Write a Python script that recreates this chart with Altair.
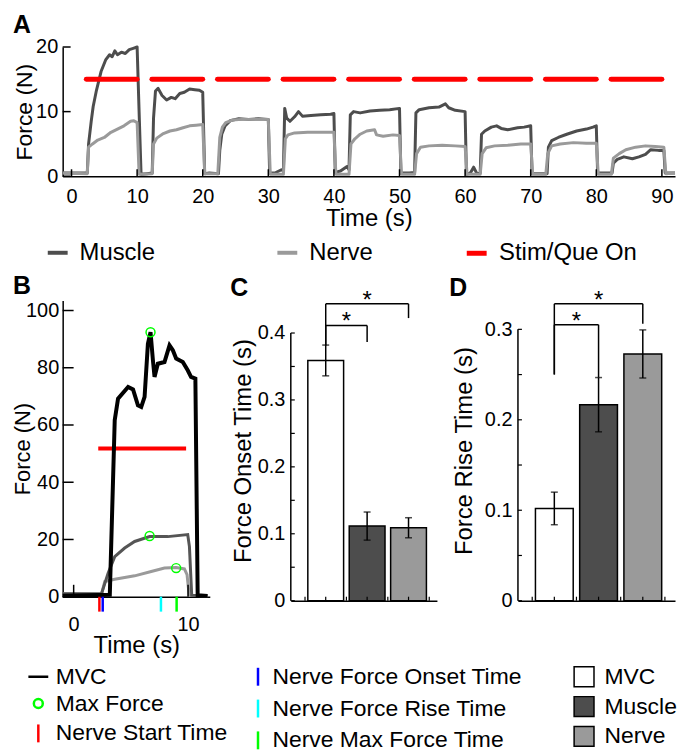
import altair as alt
import pandas as pd

FONT = "Liberation Sans"
DARK = "#4d4d4d"
LIGHT = "#9a9a9a"

# ---------------- Panel A: force traces over 9 stimulation cycles ----------------
MUSCLE_A = [
    (-1.35, 0.5), (2.4, 0.5), (2.6, 5.0), (3.0, 8.5), (3.3, 10.8), (3.8, 13.3), (4.5, 16.2), (5.2, 18.0),
    (5.8, 18.8), (6.2, 18.5), (6.6, 19.4), (7.0, 18.8), (7.6, 19.2), (8.2, 19.0), (8.8, 19.6), (9.4, 19.8),
    (10.0, 20.0), (10.3, 10.0), (10.6, 0.3), (11.5, 0.4), (12.3, 0.5),
    (12.5, 9.0), (12.8, 13.2), (13.2, 13.6), (13.8, 12.5), (14.5, 11.8), (15.2, 12.2), (15.8, 12.0),
    (16.5, 12.8), (17.2, 13.0), (18.0, 13.5), (18.8, 13.4), (19.5, 13.3), (20.0, 13.0), (20.3, 0.4),
    (21.0, 0.5), (22.4, 0.4),
    (22.6, 4.0), (22.9, 6.5), (23.4, 7.8), (24.2, 8.6), (25.5, 8.9), (27.0, 8.8), (28.5, 8.9), (30.0, 8.8),
    (30.2, 0.5), (31.0, 0.5), (32.0, 1.0), (32.3, 0.8),
    (32.5, 10.5), (32.8, 9.0), (33.3, 8.5), (34.0, 9.2), (34.6, 10.0), (35.2, 9.3), (36.5, 9.4), (38.0, 9.5),
    (39.5, 9.6), (40.0, 9.7), (40.2, 0.6), (41.0, 0.8), (42.0, 1.5), (42.3, 1.0),
    (42.5, 9.5), (43.0, 10.0), (44.0, 9.8), (45.5, 10.1), (47.0, 10.2), (48.5, 10.3), (50.0, 10.5),
    (50.2, 0.5), (51.5, 0.5), (52.3, 0.6),
    (52.5, 9.8), (53.0, 10.3), (54.5, 10.6), (56.0, 10.7), (57.0, 11.2), (57.5, 10.6), (58.5, 10.2),
    (60.0, 10.0), (60.2, 0.3), (60.8, 0.5), (61.3, 1.4), (61.8, 0.4), (62.3, 0.5),
    (62.5, 6.5), (63.0, 7.0), (64.0, 7.6), (64.8, 7.8), (65.5, 7.4), (66.5, 7.2), (68.0, 7.5), (69.0, 7.6),
    (70.0, 7.8), (70.2, 0.4), (72.5, 0.4),
    (72.7, 4.5), (73.2, 5.5), (74.2, 6.0), (75.5, 6.5), (77.0, 7.0), (78.5, 7.3), (79.5, 7.6), (80.0, 7.8),
    (80.2, 0.5), (82.4, 0.5),
    (82.6, 2.0), (83.2, 2.6), (84.2, 3.0), (85.5, 2.7), (86.5, 3.0), (87.5, 3.4), (88.3, 4.1), (89.5, 4.0),
    (90.3, 4.0), (90.5, 0.5), (92.0, 0.5),
]
NERVE_A = [
    (-1.35, 0.5), (2.4, 0.4), (2.6, 4.5), (3.2, 5.0), (4.0, 5.6), (5.0, 6.0), (6.0, 6.8), (7.0, 7.3),
    (8.0, 7.8), (9.0, 8.5), (9.5, 8.6), (10.0, 8.3), (10.3, 0.3), (12.3, 0.4),
    (12.5, 5.0), (13.0, 5.9), (14.0, 6.6), (15.0, 7.0), (16.0, 7.2), (17.0, 7.5), (18.0, 7.8), (19.0, 7.9),
    (20.0, 8.0), (20.3, 0.4), (22.3, 0.4),
    (22.6, 6.0), (23.0, 7.6), (23.5, 8.3), (24.5, 8.7), (26.0, 8.8), (28.0, 8.8), (30.0, 8.8), (30.3, 0.3),
    (32.3, 0.3),
    (32.6, 5.8), (33.0, 6.4), (34.0, 6.7), (36.0, 6.8), (38.0, 6.8), (40.0, 6.8), (40.3, 0.3), (42.3, 0.3),
    (42.6, 5.0), (43.2, 5.8), (44.0, 6.5), (45.0, 7.0), (46.2, 7.2), (46.5, 6.4), (47.5, 6.2), (49.0, 6.4),
    (50.0, 6.3), (50.3, 0.3), (52.3, 0.3),
    (52.6, 3.5), (53.2, 4.5), (54.5, 4.7), (56.5, 4.8), (58.5, 4.7), (60.0, 4.6), (60.3, 0.3), (62.3, 0.3),
    (62.6, 3.5), (63.2, 4.4), (64.5, 4.7), (66.5, 4.8), (68.5, 5.0), (70.0, 5.0), (70.3, 0.3), (72.3, 0.3),
    (72.6, 3.5), (73.2, 4.7), (74.5, 5.0), (76.5, 5.2), (78.5, 5.1), (80.0, 5.1), (80.3, 0.3), (82.3, 0.3),
    (82.6, 2.8), (83.5, 3.5), (84.5, 4.1), (86.0, 4.5), (87.5, 4.7), (89.0, 4.6), (90.3, 4.5), (90.6, 0.4),
    (92.0, 0.5),
]
STIM_ON = [2.25, 12.25, 22.25, 32.25, 42.25, 52.25, 62.25, 72.25, 82.25]
STIM_OFF = [10, 20, 30, 40, 50, 60, 70, 80, 90]
STIM_LEVEL = 15.0
A_TRACES = ["Muscle", "Nerve"]
A_TRACE_COLORS = [DARK, LIGHT]
A_STIM = ["Stim/Que On"]
A_STIM_COLOR = ["#ff0000"]
A_XTICKS = [0, 10, 20, 30, 40, 50, 60, 70, 80, 90]
A_YTICKS = [0, 10, 20]

# ---------------- Panel B: single trial ----------------
MVC_B = [
    (-0.96, 0.3), (3.16, 0.7), (3.59, 61.7), (3.88, 69.2), (4.76, 73.3), (5.19, 72.4), (5.62, 66.9),
    (5.91, 66.3), (6.2, 69.8), (6.49, 88.4), (6.72, 92.4), (6.93, 82.6), (7.07, 76.8), (7.36, 81.4),
    (7.94, 82.0), (8.38, 87.8), (8.67, 86.1), (8.96, 83.2), (9.54, 82.0), (9.97, 79.1), (10.26, 76.8),
    (10.64, 76.2), (10.84, 0.5), (11.7, 0.3),
]
MUSCLE_B = [
    (-0.96, 1.0), (2.43, 1.0), (3.01, 8.2), (3.59, 14.0), (4.46, 17.0), (5.33, 19.3), (6.64, 21.0),
    (8.23, 21.0), (9.97, 21.7), (10.12, 17.5), (10.32, 0.5), (11.7, 0.3),
]
NERVE_B = [
    (-0.96, 1.0), (2.43, 0.8), (2.72, 5.3), (3.59, 6.1), (5.33, 7.3), (6.78, 8.8), (7.94, 10.0),
    (8.96, 10.2), (9.68, 9.7), (9.91, 7.7), (10.1, 0.5), (11.7, 0.3),
]
MAX_FORCE_B = [(6.72, 92.4), (6.64, 21.2), (8.96, 10.0)]
STIM_B = [(2.15, 9.83, 51.8)]
NERVE_START_T = [2.25]
B_ITEMS = ["MVC", "Max Force", "Nerve Start Time"]
B_ITEM_COLORS = ["black", "#00ff00", "#ff0000"]
B_ITEM_SHAPES = [
    "M-1,0L1,0",
    "M-0.45,0A0.45,0.45 0 1,0 0.45,0A0.45,0.45 0 1,0 -0.45,0Z",
    "M0,-0.9L0,0.9",
]
EVENT_NAMES = ["Nerve Force Onset Time", "Nerve Force Rise Time", "Nerve Max Force Time"]
EVENT_T = [2.54, 7.63, 9.0]
EVENT_COLORS = ["#0000ff", "#00ffff", "#00ff00"]
B_XTICKS = [0, 10]
B_YTICKS = [0, 20, 40, 60, 80, 100]

# ---------------- Panels C and D: bar summaries ----------------
GROUPS = ["MVC", "Muscle", "Nerve"]
GROUP_POS = [1, 2, 3]
GROUP_COLORS = ["white", DARK, LIGHT]
ONSET_MEAN = [0.359, 0.1115, 0.109]
ONSET_ERR = [0.023, 0.021, 0.015]
RISE_MEAN = [0.102, 0.2167, 0.2728]
RISE_ERR = [0.018, 0.030, 0.0266]
# brackets: (x_left, x_right, y_top, left leg bottom, right leg bottom)
C_BRACKETS = [(1, 3, 0.4436, 0.3817, 0.4223), (1, 2, 0.4114, 0.3817, 0.3866)]
D_BRACKETS = [(1, 3, 0.3282, 0.2501, 0.3062), (1, 2, 0.3051, 0.2501, 0.2468)]
C_YTICKS = [0, 0.1, 0.2, 0.3, 0.4]
C_YMINOR = [0.05, 0.15, 0.25, 0.35]
D_YTICKS = [0, 0.1, 0.2, 0.3]
D_YMINOR = [0.05, 0.15, 0.25]
BAR_XTICKS = [0.5, 1, 1.5, 2, 2.5, 3, 3.5]

LEGEND_ROW_PAD = 3
LEGEND_TOP = 367


def trace_df(pairs, name):
    return pd.DataFrame({"t": [p[0] for p in pairs], "F": [p[1] for p in pairs],
                         "series": name, "i": list(range(len(pairs)))})


def panel_label(letter, dx, dy):
    return alt.Chart(pd.DataFrame({"lab": [letter]})).mark_text(
        fontSize=25, fontWeight="bold", align="left", baseline="top", font=FONT
    ).encode(text="lab:N", x=alt.value(dx), y=alt.value(dy))


# ======== Panel A ========
WA, HA = 616, 130
xsA = alt.Scale(domain=[-1.35, 92.0], nice=False, zero=False)
ysA = alt.Scale(domain=[0, 20], nice=False)
axA_x = alt.Axis(values=A_XTICKS, title="Time (s)", labelPadding=10, titlePadding=1, format="d")
axA_y = alt.Axis(values=A_YTICKS, title="Force (N)", labelPadding=5, titlePadding=-1, format="d",
                 titleFontSize=23)
legA1 = alt.Legend(title=None, orient="none", legendX=-17, legendY=195, direction="horizontal",
                   symbolType="stroke", symbolSize=400, symbolStrokeWidth=4, labelFontSize=24,
                   labelOffset=10, columnPadding=114, padding=0)
legA2 = alt.Legend(title=None, orient="none", legendX=404, legendY=195, direction="horizontal",
                   symbolType="stroke", symbolSize=400, symbolStrokeWidth=5, labelFontSize=24,
                   labelOffset=10, padding=0)
colA = alt.Color("series:N", scale=alt.Scale(domain=A_TRACES, range=A_TRACE_COLORS), legend=legA1)
strA = alt.Stroke("series:N", scale=alt.Scale(domain=A_STIM, range=A_STIM_COLOR), legend=legA2)
XA = alt.X("t:Q", scale=xsA, axis=axA_x)
YA = alt.Y("F:Q", scale=ysA, axis=axA_y)

dfA = pd.concat([trace_df(MUSCLE_A, "Muscle"), trace_df(NERVE_A, "Nerve")])
tracesA = alt.Chart(dfA).mark_line(strokeWidth=3, strokeJoin="round").encode(
    x=XA, y=YA, color=colA, detail="series:N", order="i:Q")
stimA = alt.Chart(pd.DataFrame({"t": STIM_ON, "t2": STIM_OFF, "F": STIM_LEVEL,
                                "series": A_STIM[0]})).mark_rule(
    strokeWidth=5, strokeCap="round").encode(x=XA, x2="t2:Q", y=YA, stroke=strA)
ytickA = alt.Chart(pd.DataFrame({"F": A_YTICKS})).mark_rule(color="black", strokeWidth=1.5).encode(
    y=YA, x=alt.value(0), x2=alt.value(8))
xtickA = alt.Chart(pd.DataFrame({"t": A_XTICKS})).mark_rule(color="black", strokeWidth=1.5).encode(
    x=XA, y=alt.value(HA), y2=alt.value(HA - 7))
A = alt.layer(tracesA, stimA, ytickA, xtickA, panel_label("A", -50, -34)).properties(width=WA, height=HA)

# ======== Panel B ========
WB, HB = 148, 298
xsB = alt.Scale(domain=[-0.96, 11.9], nice=False, zero=False)
ysB = alt.Scale(domain=[0, 103.5], nice=False)
axB_x = alt.Axis(values=B_XTICKS, title="Time (s)", labelPadding=18, titlePadding=-1, format="d")
axB_y = alt.Axis(values=B_YTICKS, title="Force (N)", labelPadding=4, titlePadding=-9, format="d",
                 titleFontSize=22)
XB = alt.X("t:Q", scale=xsB, axis=axB_x)
YB = alt.Y("F:Q", scale=ysB, axis=axB_y)
legB1 = alt.Legend(title=None, orient="none", legendX=-36, legendY=LEGEND_TOP, direction="vertical",
                   symbolSize=400, symbolStrokeWidth=2.5, labelFontSize=23, labelOffset=6,
                   rowPadding=LEGEND_ROW_PAD, padding=0)
colB = alt.Color("item:N", scale=alt.Scale(domain=B_ITEMS, range=B_ITEM_COLORS), legend=legB1)
shpB = alt.Shape("item:N", scale=alt.Scale(domain=B_ITEMS, range=B_ITEM_SHAPES), legend=legB1)
legB2 = alt.Legend(title=None, orient="none", legendX=185, legendY=LEGEND_TOP, direction="vertical",
                   symbolType="M0,-0.9L0,0.9", symbolSize=400, symbolStrokeWidth=2.5,
                   labelFontSize=23, labelOffset=3, rowPadding=LEGEND_ROW_PAD, padding=0)

stimB = alt.Chart(pd.DataFrame({"t": [s[0] for s in STIM_B], "t2": [s[1] for s in STIM_B],
                                "F": [s[2] for s in STIM_B]})).mark_rule(
    color="#ff0000", strokeWidth=4).encode(x=XB, x2="t2:Q", y=YB)
nerveB = alt.Chart(trace_df(NERVE_B, "Nerve")).mark_line(color=LIGHT, strokeWidth=3).encode(
    x=XB, y=YB, order="i:Q")
muscleB = alt.Chart(trace_df(MUSCLE_B, "Muscle")).mark_line(color="#555555", strokeWidth=3).encode(
    x=XB, y=YB, order="i:Q")
mvcdf = trace_df(MVC_B, "MVC")
mvcdf["item"] = "MVC"
mvcB = alt.Chart(mvcdf).mark_line(strokeWidth=4).encode(x=XB, y=YB, order="i:Q", color=colB)
maxB = alt.Chart(pd.DataFrame({"t": [p[0] for p in MAX_FORCE_B], "F": [p[1] for p in MAX_FORCE_B],
                               "item": "Max Force"})).mark_point(
    filled=False, size=400, strokeWidth=1.5, opacity=1).encode(x=XB, y=YB, color=colB, shape=shpB)
startB = alt.Chart(pd.DataFrame({"t": NERVE_START_T, "item": "Nerve Start Time"})).mark_rule(
    strokeWidth=2.5).encode(x=XB, y=alt.value(HB), y2=alt.value(HB + 15), color=colB)
eventB = alt.Chart(pd.DataFrame({"t": EVENT_T, "evt": EVENT_NAMES})).mark_rule(strokeWidth=2.5).encode(
    x=XB, y=alt.value(HB), y2=alt.value(HB + 15),
    stroke=alt.Stroke("evt:N", scale=alt.Scale(domain=EVENT_NAMES, range=EVENT_COLORS), legend=legB2))
ytickB = alt.Chart(pd.DataFrame({"F": B_YTICKS})).mark_rule(color="black", strokeWidth=1.5).encode(
    y=YB, x=alt.value(0), x2=alt.value(11))
xtickB = alt.Chart(pd.DataFrame({"t": B_XTICKS})).mark_rule(color="black", strokeWidth=1.5).encode(
    x=XB, y=alt.value(HB), y2=alt.value(HB - 12))
B = alt.layer(stimB, nerveB, muscleB, mvcB, maxB, startB, eventB, ytickB, xtickB,
              panel_label("B", -50, -27)).properties(width=WB, height=HB)


# ======== Panels C / D ========
def bar_panel(means, errs, brackets, yticks, yminor, ydom, xdom, width, barw, title,
              letter, ldx, tpad, show_legend, legx):
    H = 302
    xs = alt.Scale(domain=xdom, nice=False, zero=False)
    ys = alt.Scale(domain=[0, ydom], nice=False)
    axx = alt.Axis(labels=False, title=None, domain=True)
    axy = alt.Axis(values=yticks, title=title, domain=False, format=".1~f",
                   labelPadding=6, titlePadding=tpad)
    X = alt.X("pos:Q", scale=xs, axis=axx)
    Y = alt.Y("v:Q", scale=ys, axis=axy)
    df = pd.DataFrame({"pos": GROUP_POS, "group": GROUPS, "v": means,
                       "lo": [m - e for m, e in zip(means, errs)],
                       "hi": [m + e for m, e in zip(means, errs)]})
    if show_legend:
        leg = alt.Legend(title=None, orient="none", legendX=legx, legendY=LEGEND_TOP,
                         direction="vertical", symbolType="square", symbolSize=400,
                         symbolStrokeColor="black", symbolStrokeWidth=1.5, labelFontSize=23,
                         labelOffset=9, rowPadding=LEGEND_ROW_PAD, padding=0)
    else:
        leg = None
    bars = alt.Chart(df).mark_bar(size=barw, stroke="black", strokeWidth=1.5).encode(
        x=X, y=Y, fill=alt.Fill("group:N", scale=alt.Scale(domain=GROUPS, range=GROUP_COLORS),
                                legend=leg))
    err = alt.Chart(df).mark_rule(color="black", strokeWidth=1.5).encode(
        x=X, y=alt.Y("lo:Q", scale=ys, axis=axy), y2="hi:Q")
    cap_lo = alt.Chart(df).mark_tick(orient="horizontal", size=7, thickness=1.5, color="black").encode(
        x=X, y=alt.Y("lo:Q", scale=ys, axis=axy))
    cap_hi = alt.Chart(df).mark_tick(orient="horizontal", size=7, thickness=1.5, color="black").encode(
        x=X, y=alt.Y("hi:Q", scale=ys, axis=axy))
    segs = []
    for (xl, xr, yt, ylb, yrb) in brackets:
        segs.append((xl, xr, yt, yt))
        segs.append((xl, xl, yt, ylb))
        segs.append((xr, xr, yt, yrb))
    sdf = pd.DataFrame(segs, columns=["pos", "x2", "v", "y2"])
    brk = alt.Chart(sdf).mark_rule(color="black", strokeWidth=1.5).encode(
        x=X, x2="x2:Q", y=Y, y2="y2:Q")
    stars = alt.Chart(pd.DataFrame({"pos": [(b[0] + b[1]) / 2 for b in brackets],
                                    "v": [b[2] for b in brackets], "s": "*"})).mark_text(
        fontSize=24, baseline="alphabetic", dy=4, font=FONT, color="black").encode(
        x=X, y=Y, text="s:N")
    ydomain_line = alt.Chart(pd.DataFrame({"v": [0], "y2": [max(yticks)]})).mark_rule(
        color="black", strokeWidth=1.5).encode(x=alt.value(0), y=Y, y2="y2:Q")
    ytk = alt.Chart(pd.DataFrame({"v": yticks + yminor})).mark_rule(
        color="black", strokeWidth=1.2).encode(y=Y, x=alt.value(0), x2=alt.value(4))
    xtk = alt.Chart(pd.DataFrame({"pos": BAR_XTICKS})).mark_rule(
        color="black", strokeWidth=1.2).encode(x=X, y=alt.value(H), y2=alt.value(H - 4))
    return alt.layer(bars, err, cap_lo, cap_hi, brk, stars, ydomain_line, ytk, xtk,
                     panel_label(letter, ldx, -25)).properties(width=width, height=H)


C = bar_panel(ONSET_MEAN, ONSET_ERR, C_BRACKETS, C_YTICKS, C_YMINOR, 0.4486, [0.277, 3.566], 147, 36,
              "Force Onset Time (s)", "C", -61, 2, False, 0)
D = bar_panel(RISE_MEAN, RISE_ERR, D_BRACKETS, D_YTICKS, D_YMINOR, 0.3319, [0.29, 3.616], 158, 38,
              "Force Rise Time (s)", "D", -69, 8, True, 55)

row2 = alt.hconcat(B, C, D, spacing=81.5, bounds="flush").resolve_scale(
    color="independent", fill="independent", shape="independent", stroke="independent")
chart = alt.vconcat(A, row2, spacing=125, bounds="flush").resolve_scale(
    color="independent", fill="independent", shape="independent", stroke="independent")

chart = chart.properties(padding={"left": 3, "top": 3, "right": 0, "bottom": 0}).configure(
    font=FONT).configure_view(stroke=None).configure_axis(
    labelFont=FONT, titleFont=FONT, labelFontSize=20, titleFontSize=24, titleFontWeight="normal",
    labelColor="black", titleColor="black", domainColor="black", domainWidth=1.5, grid=False,
    ticks=False).configure_legend(labelFont=FONT, labelColor="black", labelLimit=400).configure_text(
    font=FONT)

chart.save("out.html", embed_options={"renderer": "svg", "actions": False})
